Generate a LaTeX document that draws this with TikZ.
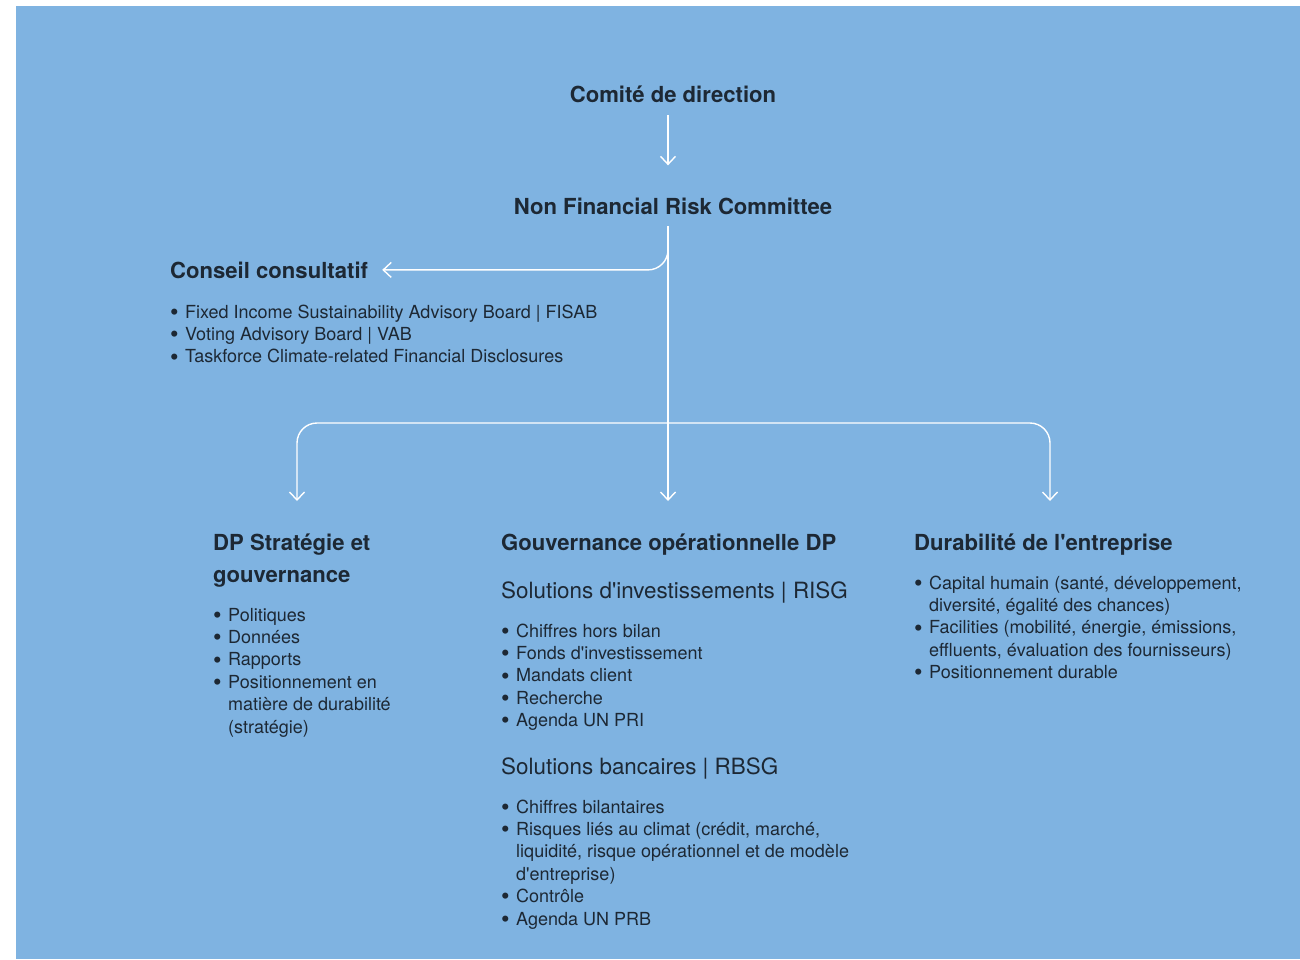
\documentclass[tikz,border=0pt]{standalone}
\usepackage{fontspec}
\usepackage{graphicx}
\setmainfont{TeX Gyre Heros}
\usetikzlibrary{arrows.meta}
\definecolor{bgblue}{HTML}{7FB3E1}
\definecolor{ink}{HTML}{1D2834}
\tikzset{
  conn/.style={draw=white, line width=1.4pt, rounded corners=20pt},
  tip/.style={-{Straight Barb[length=8pt,width=15pt]}},
  head/.style={font=\fontsize{22.1}{32}\selectfont\bfseries, text=ink, inner sep=0pt, align=left},
  subhead/.style={font=\fontsize{22.4}{28}\selectfont, text=ink, inner sep=0pt},
  items/.style={font=\fontsize{18}{22.4}\selectfont, text=ink, inner sep=0pt, align=left},
}
\newcommand{\itm}{\makebox[15pt][l]{\raisebox{-2.2pt}[0pt][0pt]{\scalebox{1.35}{\textbullet}}}}
\newcommand{\cnt}{\hspace*{15pt}}
\newcommand{\ap}{\textquotesingle}

\begin{document}
\begin{tikzpicture}[x=1pt,y=-1pt]
  \useasboundingbox (0,0) rectangle (1300,959);
  \fill[bgblue] (16,6) rectangle (1300,959);

  % top of the chart
  \node[head, anchor=base] (cdir) at (673,102) {Comité de direction};
  \node[head, anchor=base] (nfrc) at (673,214) {Non Financial Risk Committee};

  % advisory boards (multi-line nodes sit on their last line)
  \node[head, anchor=base west] (cons) at (170,278) {Conseil consultatif};
  \node[items, anchor=base west] (consl) at (170,362.8) {%
    \itm Fixed Income Sustainability Advisory Board | FISAB\\
    \itm Voting Advisory Board | VAB\\
    \itm Taskforce Climate-related Financial Disclosures};

  % three columns
  \node[head, anchor=base west] (dps) at (213,582) {DP Stratégie et\\gouvernance};
  \node[items, anchor=base west] (dpsl) at (213,733) {%
    \itm Politiques\\
    \itm Données\\
    \itm Rapports\\
    \itm Positionnement en\\
    \cnt matière de durabilité\\
    \cnt (stratégie)};

  \node[head, anchor=base west] (gov) at (501,550) {Gouvernance opérationnelle DP};
  \node[subhead, anchor=base west] (risg) at (501,598) {Solutions d\ap investissements | RISG};
  \node[items, anchor=base west] (risgl) at (501,726.6) {%
    \itm Chiffres hors bilan\\
    \itm Fonds d\ap investissement\\
    \itm Mandats client\\
    \itm Recherche\\
    \itm Agenda UN PRI};
  \node[subhead, anchor=base west] (rbsg) at (501,774) {Solutions bancaires | RBSG};
  \node[items, anchor=base west] (rbsgl) at (501,925) {%
    \itm Chiffres bilantaires\\
    \itm Risques liés au climat (crédit, marché,\\
    \cnt liquidité, risque opérationnel et de modèle\\
    \cnt d\ap entreprise)\\
    \itm Contrôle\\
    \itm Agenda UN PRB};

  \node[head, anchor=base west] (dur) at (914,550) {Durabilité de l\ap entreprise};
  \node[items, anchor=base west] (durl) at (914,678.6) {%
    \itm Capital humain (santé, développement,\\
    \cnt diversité, égalité des chances)\\
    \itm Facilities (mobilité, énergie, émissions,\\
    \cnt effluents, évaluation des fournisseurs)\\
    \itm Positionnement durable};

  % connectors
  \coordinate (spine) at (668,0);
  \coordinate (fork) at (668,423);
  \coordinate (tipS) at (297,501);
  \coordinate (tipG) at (668,501);
  \coordinate (tipD) at (1050,501);
  \draw[conn, tip, shorten <=13pt, shorten >=32pt] (cdir.south -| spine) -- (nfrc.north -| spine);
  \draw[conn, tip, shorten <=12pt, shorten >=14pt] (nfrc.south -| spine) |- (cons.east);
  \draw[conn, tip, shorten <=12pt] (nfrc.south -| spine) -- (tipG);
  \draw[conn, tip] (fork) -| (tipS);
  \draw[conn, tip] (fork) -| (tipD);
\end{tikzpicture}
\end{document}
